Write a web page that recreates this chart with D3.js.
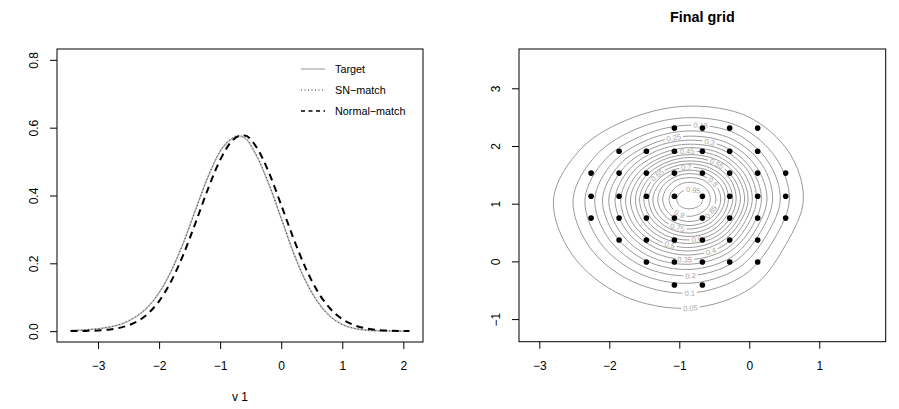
<!DOCTYPE html>
<html>
<head>
<meta charset="utf-8">
<script src="https://cdn.jsdelivr.net/npm/d3@7"></script>
<style>
  body { margin: 0; background: #fff; }
  text { font-family: "Liberation Sans", Arial, Helvetica, sans-serif; }
</style>
</head>
<body>
<div id="chart"></div>
<script>
// ---------- left panel data: densities on v 1 ----------
var densX = [-3.45, -3.2, -3.0, -2.8, -2.6, -2.4, -2.2, -2.0, -1.8, -1.6, -1.4, -1.2, -1.0, -0.8, -0.7,
             -0.6, -0.4, -0.2, 0, 0.2, 0.4, 0.6, 0.8, 1.0, 1.2, 1.4, 1.6, 1.8, 2.1];
var target = [0.002, 0.004, 0.007, 0.012, 0.022, 0.040, 0.068, 0.113, 0.178, 0.262, 0.360, 0.455, 0.530, 0.568, 0.575,
              0.570, 0.515, 0.432, 0.333, 0.232, 0.148, 0.086, 0.044, 0.020, 0.008, 0.003, 0.001, 0.0003, 0.0];
var snMatch = [0.002, 0.004, 0.007, 0.013, 0.023, 0.041, 0.069, 0.114, 0.178, 0.261, 0.358, 0.454, 0.531, 0.570, 0.577,
               0.572, 0.517, 0.433, 0.333, 0.231, 0.147, 0.085, 0.043, 0.019, 0.008, 0.003, 0.001, 0.0003, 0.0];
var normalMatch = [0.0002, 0.0007, 0.0020, 0.0051, 0.0118, 0.025, 0.049, 0.0887, 0.148, 0.227, 0.321, 0.419, 0.505, 0.562, 0.575,
                   0.577, 0.541, 0.467, 0.372, 0.274, 0.186, 0.116, 0.0667, 0.0354, 0.0173, 0.0078, 0.0032, 0.0012, 0.0003];
var legendLabels = ["Target", "SN\u2212match", "Normal\u2212match"];
var leftXTicks = [-3, -2, -1, 0, 1, 2];
var leftYTicks = [0, 0.2, 0.4, 0.6, 0.8];

// ---------- right panel data: final grid ----------
var gridX = [-1.07, -0.67, -0.28, 0.12,
             -1.86, -1.47, -1.07, -0.67, -0.28, 0.12,
             -2.26, -1.86, -1.47, -1.07, -0.67, -0.28, 0.12, 0.52,
             -2.26, -1.86, -1.47, -1.07, -0.67, -0.28, 0.12, 0.52,
             -2.26, -1.86, -1.47, -1.07, -0.67, -0.28, 0.12, 0.52,
             -1.86, -1.47, -1.07, -0.67, -0.28, 0.12,
             -1.47, -1.07, -0.67, -0.28, 0.12,
             -1.07, -0.67];
var gridY = [2.31, 2.31, 2.31, 2.31,
             1.91, 1.91, 1.91, 1.91, 1.91, 1.91,
             1.53, 1.53, 1.53, 1.53, 1.53, 1.53, 1.53, 1.53,
             1.13, 1.13, 1.13, 1.13, 1.13, 1.13, 1.13, 1.13,
             0.75, 0.75, 0.75, 0.75, 0.75, 0.75, 0.75, 0.75,
             0.37, 0.37, 0.37, 0.37, 0.37, 0.37,
             -0.01, -0.01, -0.01, -0.01, -0.01,
             -0.41, -0.41];

// contour levels, each traced as radii (data units) around a centre at fixed angles
var contourLevels = [0.05, 0.1, 0.15, 0.2, 0.25, 0.3, 0.35, 0.4, 0.45, 0.5,
                     0.55, 0.6, 0.65, 0.7, 0.75, 0.8, 0.85, 0.9, 0.95];
var contourCentre = [-0.847, 1.081];
var contourAngles = [0, 30, 60, 90, 120, 150, 180, 210, 240, 270, 300, 330];
var contourRadii = [
  [1.62, 1.63, 1.65, 1.61, 1.63, 1.78, 1.95, 1.94, 1.93, 1.89, 1.77, 1.58],
  [1.42, 1.42, 1.44, 1.41, 1.43, 1.54, 1.67, 1.66, 1.65, 1.63, 1.53, 1.39],
  [1.29, 1.29, 1.31, 1.28, 1.29, 1.39, 1.50, 1.49, 1.48, 1.46, 1.38, 1.26],
  [1.18, 1.19, 1.20, 1.18, 1.19, 1.27, 1.36, 1.35, 1.35, 1.33, 1.26, 1.16],
  [1.10, 1.10, 1.11, 1.09, 1.10, 1.17, 1.25, 1.24, 1.24, 1.22, 1.17, 1.08],
  [1.02, 1.02, 1.03, 1.02, 1.03, 1.09, 1.16, 1.15, 1.15, 1.13, 1.08, 1.01],
  [0.95, 0.96, 0.97, 0.95, 0.96, 1.01, 1.07, 1.06, 1.06, 1.05, 1.01, 0.94],
  [0.89, 0.89, 0.90, 0.89, 0.89, 0.94, 0.99, 0.99, 0.98, 0.97, 0.94, 0.88],
  [0.83, 0.83, 0.84, 0.83, 0.83, 0.87, 0.92, 0.92, 0.91, 0.90, 0.87, 0.82],
  [0.78, 0.78, 0.78, 0.77, 0.78, 0.81, 0.85, 0.85, 0.85, 0.84, 0.81, 0.77],
  [0.72, 0.72, 0.72, 0.72, 0.72, 0.75, 0.78, 0.78, 0.78, 0.77, 0.75, 0.71],
  [0.66, 0.67, 0.67, 0.66, 0.67, 0.69, 0.72, 0.72, 0.72, 0.71, 0.69, 0.66],
  [0.61, 0.61, 0.61, 0.61, 0.61, 0.63, 0.66, 0.65, 0.65, 0.65, 0.63, 0.60],
  [0.55, 0.56, 0.56, 0.55, 0.56, 0.57, 0.59, 0.59, 0.59, 0.59, 0.57, 0.55],
  [0.50, 0.50, 0.50, 0.50, 0.50, 0.51, 0.53, 0.53, 0.53, 0.52, 0.51, 0.49],
  [0.44, 0.44, 0.44, 0.44, 0.44, 0.45, 0.46, 0.46, 0.46, 0.46, 0.45, 0.44],
  [0.37, 0.37, 0.38, 0.37, 0.38, 0.38, 0.39, 0.39, 0.39, 0.39, 0.38, 0.37],
  [0.29, 0.29, 0.29, 0.29, 0.29, 0.29, 0.30, 0.30, 0.30, 0.30, 0.29, 0.29],
  [0.18, 0.18, 0.17, 0.16, 0.17, 0.18, 0.19, 0.19, 0.18, 0.17, 0.17, 0.18]
];
// angle (deg, around the centre) where each level carries its label
var labelAngles = [270, 270, 83, 270, 102, 74, 266, 288, 93, 250, 58, 278, 139, 95, 250, 42, 323, 240, 73];
var rightXTicks = [-3, -2, -1, 0, 1];
var rightYTicks = [-1, 0, 1, 2, 3];

var W = 899, H = 409;
var svg = d3.select("#chart").append("svg")
    .attr("width", W).attr("height", H)
    .style("display", "block");
var defs = svg.append("defs");

// ================= left panel =================
var L = {left: 57, right: 423, top: 49, bottom: 342};
var xL = d3.scaleLinear().domain([-3.672, 2.322]).range([L.left, L.right]);
var yL = d3.scaleLinear().domain([-0.032, 0.832]).range([L.bottom, L.top]);

svg.append("g")
    .attr("transform", `translate(0,${L.bottom})`)
    .call(d3.axisBottom(xL).tickValues(leftXTicks).tickSize(7).tickPadding(12.5).tickFormat(d3.format("d")))
    .call(g => g.select(".domain").remove())
    .call(g => g.selectAll("text").style("font-size", "12px").attr("fill", "#000"));

svg.append("g")
    .attr("transform", `translate(${L.left},0)`)
    .call(d3.axisLeft(yL).tickValues(leftYTicks).tickSize(7).tickFormat(d3.format(".1f")))
    .call(g => g.select(".domain").remove())
    .call(g => g.selectAll("text")
        .attr("transform", "rotate(-90)")
        .attr("x", 0).attr("y", -18.7).attr("dy", 0)
        .style("text-anchor", "middle").style("font-size", "12px").attr("fill", "#000"));

svg.append("text")
    .attr("x", (L.left + L.right) / 2).attr("y", 401)
    .attr("text-anchor", "middle").style("font-size", "12px")
    .text("v 1");

var densLine = function(vals) {
  return d3.line()
    .x((d, i) => xL(densX[i]))
    .y(d => yL(d))
    .curve(d3.curveMonotoneX)(vals);
};

svg.append("path").attr("d", densLine(target))
    .attr("fill", "none").attr("stroke", "#bdbdbd").attr("stroke-width", 1.6);
svg.append("path").attr("d", densLine(snMatch))
    .attr("fill", "none").attr("stroke", "#333").attr("stroke-width", 1)
    .attr("stroke-dasharray", "1 2.5");
svg.append("path").attr("d", densLine(normalMatch))
    .attr("fill", "none").attr("stroke", "#000").attr("stroke-width", 2)
    .attr("stroke-dasharray", "7 5");

svg.append("rect")
    .attr("x", L.left).attr("y", L.top)
    .attr("width", L.right - L.left).attr("height", L.bottom - L.top)
    .attr("fill", "none").attr("stroke", "#000").attr("stroke-width", 1);

// legend
var legendStyles = [
  {stroke: "#bdbdbd", width: 1.6, dash: null},
  {stroke: "#333", width: 1, dash: "1 2.5"},
  {stroke: "#000", width: 1.5, dash: "4 3.5"}
];
legendLabels.forEach(function(lab, i) {
  var yy = 69 + i * 21;
  svg.append("line")
      .attr("x1", 301).attr("x2", 325).attr("y1", yy).attr("y2", yy)
      .attr("stroke", legendStyles[i].stroke).attr("stroke-width", legendStyles[i].width)
      .attr("stroke-dasharray", legendStyles[i].dash);
  svg.append("text")
      .attr("x", 335).attr("y", yy).attr("dy", "0.35em")
      .style("font-size", "10.8px").text(lab);
});

// ================= right panel =================
var R = {left: 519, right: 885.7, top: 49, bottom: 341.7};
var xR = d3.scaleLinear().domain([-3.29, 1.949]).range([R.left, R.right]);
var yR = d3.scaleLinear().domain([-1.392, 3.681]).range([R.bottom, R.top]);

svg.append("text")
    .attr("x", (R.left + R.right) / 2).attr("y", 22)
    .attr("text-anchor", "middle")
    .style("font-size", "14.4px").style("font-weight", "bold")
    .text("Final grid");

svg.append("g")
    .attr("transform", `translate(0,${R.bottom})`)
    .call(d3.axisBottom(xR).tickValues(rightXTicks).tickSize(7).tickPadding(12.5).tickFormat(d3.format("d")))
    .call(g => g.select(".domain").remove())
    .call(g => g.selectAll("text").style("font-size", "12px").attr("fill", "#000"));

svg.append("g")
    .attr("transform", `translate(${R.left},0)`)
    .call(d3.axisLeft(yR).tickValues(rightYTicks).tickSize(7).tickFormat(d3.format("d")))
    .call(g => g.select(".domain").remove())
    .call(g => g.selectAll("text")
        .attr("transform", "rotate(-90)")
        .attr("x", 0).attr("y", -19).attr("dy", 0)
        .style("text-anchor", "middle").style("font-size", "12px").attr("fill", "#000"));

var contourLine = d3.line().curve(d3.curveCatmullRomClosed.alpha(0.5));
var contourG = svg.append("g");
var labelG = svg.append("g");

contourLevels.forEach(function(lev, i) {
  var pts = contourAngles.map(function(a, k) {
    var t = a * Math.PI / 180, r = contourRadii[i][k];
    return [xR(contourCentre[0] + r * Math.cos(t)), yR(contourCentre[1] + r * Math.sin(t))];
  });
  var path = contourG.append("path")
      .attr("d", contourLine(pts))
      .attr("fill", "none").attr("stroke", "#9a9a9a").attr("stroke-width", 1)
      .attr("mask", `url(#cmask${i})`);

  // find the spot on the drawn path that sits at the label angle
  var node = path.node(), len = node.getTotalLength();
  var want = labelAngles[i], best = 0, bestD = 1e9, N = 360;
  for (var s = 0; s < N; s++) {
    var p = node.getPointAtLength(len * s / N);
    var ang = Math.atan2(yR.invert(p.y) - contourCentre[1], xR.invert(p.x) - contourCentre[0]) * 180 / Math.PI;
    var d = Math.abs(((ang - want) % 360 + 540) % 360 - 180);
    if (d < bestD) { bestD = d; best = s; }
  }
  var pc = node.getPointAtLength(len * best / N);
  var p0 = node.getPointAtLength(len * ((best - 3 + N) % N) / N);
  var p1 = node.getPointAtLength(len * ((best + 3) % N) / N);
  var rot = Math.atan2(p1.y - p0.y, p1.x - p0.x) * 180 / Math.PI;
  if (rot > 90) rot -= 180;
  if (rot < -90) rot += 180;

  var txt = labelG.append("text")
      .attr("transform", `translate(${pc.x},${pc.y}) rotate(${rot})`)
      .attr("text-anchor", "middle").attr("dy", "0.35em")
      .style("font-size", "7.5px").attr("fill", "#a6a6a6")
      .text(String(lev));
  var tw = txt.node().getComputedTextLength();

  var m = defs.append("mask").attr("id", `cmask${i}`)
      .attr("maskUnits", "userSpaceOnUse")
      .attr("x", 0).attr("y", 0).attr("width", W).attr("height", H);
  m.append("rect").attr("x", 0).attr("y", 0).attr("width", W).attr("height", H).attr("fill", "#fff");
  m.append("rect")
      .attr("transform", `translate(${pc.x},${pc.y}) rotate(${rot})`)
      .attr("x", -tw / 2 - 2).attr("y", -4).attr("width", tw + 4).attr("height", 8)
      .attr("fill", "#000");
});

svg.append("g").selectAll("circle")
    .data(gridX)
    .enter().append("circle")
    .attr("cx", d => xR(d))
    .attr("cy", (d, i) => yR(gridY[i]))
    .attr("r", 2.8)
    .attr("fill", "#000");

svg.append("rect")
    .attr("x", R.left).attr("y", R.top)
    .attr("width", R.right - R.left).attr("height", R.bottom - R.top)
    .attr("fill", "none").attr("stroke", "#000").attr("stroke-width", 1);
</script>
</body>
</html>
